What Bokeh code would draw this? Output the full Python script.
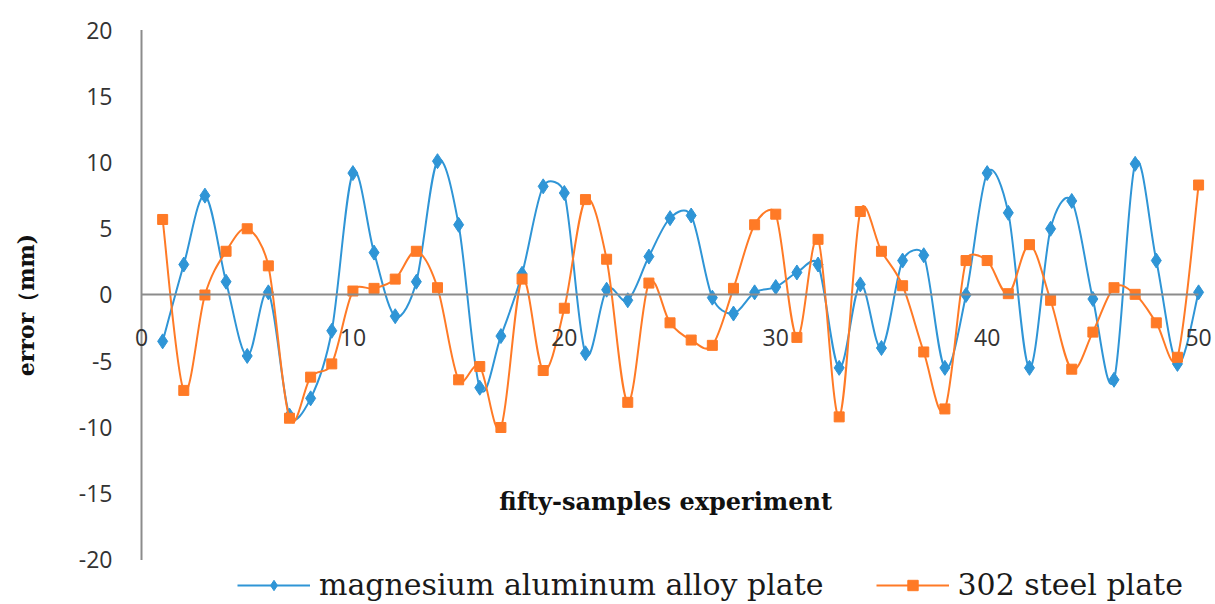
import numpy as np
from bokeh.plotting import figure
from bokeh.models import Range1d, FixedTicker, Label, Legend, LegendItem
from bokeh.embed import file_html
from bokeh.resources import INLINE

# ---- data ----
samples = list(range(1, 51))
mg_al = [-3.5, 2.3, 7.5, 1.0, -4.6, 0.2, -9.1, -7.8, -2.7, 9.2,
         3.2, -1.6, 1.0, 10.1, 5.3, -7.0, -3.1, 1.6, 8.2, 7.7,
         -4.4, 0.4, -0.4, 2.9, 5.8, 6.0, -0.2, -1.4, 0.2, 0.6,
         1.7, 2.3, -5.5, 0.8, -4.0, 2.6, 3.0, -5.5, 0.0, 9.2,
         6.2, -5.5, 5.0, 7.1, -0.3, -6.4, 9.9, 2.6, -5.2, 0.2]
steel = [5.7, -7.2, 0.0, 3.3, 5.0, 2.2, -9.3, -6.2, -5.2, 0.3,
         0.5, 1.2, 3.3, 0.55, -6.4, -5.4, -10.0, 1.2, -5.7, -1.0,
         7.2, 2.7, -8.1, 0.9, -2.1, -3.4, -3.8, 0.5, 5.3, 6.1,
         -3.2, 4.2, -9.2, 6.3, 3.3, 0.7, -4.3, -8.6, 2.6, 2.6,
         0.1, 3.8, -0.4, -5.6, -2.8, 0.55, 0.05, -2.1, -4.7, 8.3]
x_ticks = [0, 10, 20, 30, 40, 50]
y_ticks = [-20, -15, -10, -5, 0, 5, 10, 15, 20]
series_names = ["magnesium aluminum alloy plate", "302 steel plate"]

BLUE = "#2F95D6"
ORANGE = "#FF7A26"
AXIS_GRAY = "#8C8C8C"

# pixel scale of the plot (used only for the smoothing of the drawn curves)
PX_X = 21.14
PX_Y = 13.25


def smooth_segments(xs, ys):
    """Excel-like smoothed line: cubic Bezier control points per segment."""
    x = np.asarray(xs, float)
    y = np.asarray(ys, float)
    n = len(x)
    X, Y = x * PX_X, y * PX_Y
    out = {k: [] for k in ("x0", "y0", "x1", "y1", "cx0", "cy0", "cx1", "cy1")}
    for i in range(n - 1):
        i0 = i - 1 if i > 0 else i
        i1, i2 = i, i + 1
        i3 = i + 2 if i + 2 < n else i + 1
        d12 = np.hypot(X[i2] - X[i1], Y[i2] - Y[i1])
        d02 = np.hypot(X[i2] - X[i0], Y[i2] - Y[i0])
        d13 = np.hypot(X[i3] - X[i1], Y[i3] - Y[i1])
        f0 = 1 / 6 if d02 / 6 < d12 / 2 else (d12 / 2) / d02
        f1 = 1 / 6 if d13 / 6 < d12 / 2 else (d12 / 2) / d13
        out["x0"].append(x[i1]); out["y0"].append(y[i1])
        out["x1"].append(x[i2]); out["y1"].append(y[i2])
        out["cx0"].append(x[i1] + (x[i2] - x[i0]) * f0)
        out["cy0"].append(y[i1] + (y[i2] - y[i0]) * f0)
        out["cx1"].append(x[i2] - (x[i3] - x[i1]) * f1)
        out["cy1"].append(y[i2] - (y[i3] - y[i1]) * f1)
    return out


p = figure(width=1215, height=604, output_backend="svg", toolbar_location=None,
           x_range=Range1d(-0.757, 50.80), y_range=Range1d(-23.36, 21.85),
           min_border_left=125, min_border_right=0, min_border_top=5, min_border_bottom=0)
p.outline_line_color = None
p.xgrid.visible = False
p.ygrid.visible = False
p.background_fill_color = "white"
p.border_fill_color = "white"

TICK_FONT = "Open Sans"

# y axis (labels only; the axis line is drawn at x = 0 below)
ya = p.yaxis[0]
ya.ticker = FixedTicker(ticks=y_ticks)
ya.major_label_overrides = {t: str(t) for t in y_ticks}
ya.axis_line_color = None
ya.major_tick_line_color = None
ya.minor_tick_line_color = None
ya.major_label_standoff = 7
ya.major_label_text_font = TICK_FONT
ya.major_label_text_font_size = "23px"
ya.major_label_text_color = "#333333"
ya.axis_label = "error（mm)"
ya.axis_label_text_font = "DejaVu Serif"
ya.axis_label_text_font_style = "bold"
ya.axis_label_text_font_size = "22px"
ya.axis_label_text_color = "#111111"
ya.axis_label_standoff = 37

# vertical axis line at x = 0 spanning the tick range
p.segment(x0=[x_ticks[0]], y0=[y_ticks[0]], x1=[x_ticks[0]], y1=[y_ticks[-1]],
          line_color=AXIS_GRAY, line_width=2)

# x axis placed at y = 0
xa = p.xaxis[0]
xa.fixed_location = 0
xa.ticker = FixedTicker(ticks=x_ticks)
xa.bounds = (x_ticks[0], x_ticks[-1])
xa.axis_line_color = AXIS_GRAY
xa.axis_line_width = 2
xa.major_tick_line_color = None
xa.minor_tick_line_color = None
xa.major_label_standoff = 28
xa.major_label_text_font = TICK_FONT
xa.major_label_text_font_size = "23px"
xa.major_label_text_color = "#333333"

# series
seg_mg = smooth_segments(samples, mg_al)
seg_st = smooth_segments(samples, steel)

b_mg = p.bezier(line_color=BLUE, line_width=2, **seg_mg)
s_mg = p.scatter(samples, mg_al, marker="diamond", size=15,
                 fill_color=BLUE, line_color=BLUE)
b_st = p.bezier(line_color=ORANGE, line_width=2, **seg_st)
s_st = p.scatter(samples, steel, marker="square", size=10,
                 fill_color=ORANGE, line_color=ORANGE)

# x title inside plot area
p.add_layout(Label(x=24.79, y=-15.62, text="fifty-samples experiment",
                   text_align="center", text_baseline="middle",
                   text_font="DejaVu Serif", text_font_style="bold",
                   text_font_size="24px", text_color="#111111"))

legend = Legend(items=[LegendItem(label=series_names[0], renderers=[b_mg, s_mg]),
                       LegendItem(label=series_names[1], renderers=[b_st, s_st])],
                location=(112, 2), orientation="horizontal",
                glyph_width=73, glyph_height=26, label_standoff=9, spacing=52,
                padding=0, margin=0, border_line_color=None,
                background_fill_alpha=0,
                label_text_font="DejaVu Serif", label_text_font_size="30px",
                label_text_color="#1a1a1a")
p.add_layout(legend)

open("out.html", "w").write(file_html(p, INLINE))
